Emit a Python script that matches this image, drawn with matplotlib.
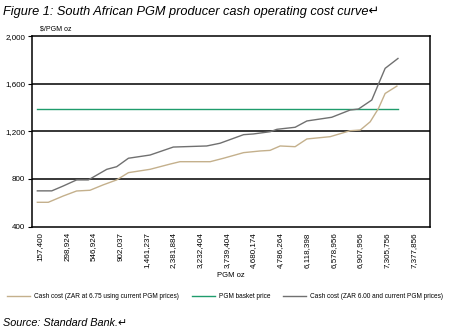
import matplotlib
matplotlib.use("Agg")
import matplotlib.pyplot as plt
from matplotlib.lines import Line2D

# category axis: cumulative PGM ounces, one label per tick slot
tick_labels = ["157,400", "298,924", "546,924", "902,037", "1,461,237",
               "2,381,884", "3,232,404", "3,739,404", "4,680,174", "4,786,264",
               "6,118,398", "6,578,956", "6,907,956", "7,305,756", "7,377,856"]

# cash cost at ZAR 6.75 (position in tick slots, $/PGM oz)
zar675_pos = [-0.10, 0.31, 0.87, 1.37, 1.87, 2.36, 2.87, 3.31, 4.12, 4.87,
              5.24, 6.37, 6.87, 7.62, 8.24, 8.61, 8.99, 9.55, 9.99, 10.86,
              11.61, 11.99, 12.36, 12.67, 12.92, 13.36]
zar675_cost = [604, 604, 657, 699, 705, 750, 792, 853, 881, 925,
               945, 945, 974, 1021, 1035, 1040, 1077, 1071, 1136, 1155,
               1205, 1211, 1280, 1392, 1518, 1580]

# cash cost at ZAR 6.00
zar600_pos = [-0.10, 0.44, 0.87, 1.37, 1.81, 2.50, 2.87, 3.31, 4.12, 4.99,
              6.24, 6.74, 7.62, 7.99, 8.62, 8.87, 9.55, 9.99, 10.92, 11.61,
              11.92, 12.42, 12.67, 12.92, 13.40]
zar600_cost = [700, 700, 741, 792, 792, 881, 903, 974, 1001, 1068,
               1077, 1100, 1172, 1178, 1197, 1217, 1234, 1287, 1318, 1379,
               1387, 1463, 1597, 1729, 1812]

basket_pos = [-0.10, 13.40]
basket_price = [1390, 1390]

y_ticks = [400, 800, 1200, 1600, 2000]

tan = "#c4b08c"
grey = "#707070"
green = "#1f9c6c"

fig = plt.figure(figsize=(4.5, 3.34), dpi=100)
ax = fig.add_axes([0.0711, 0.3216, 0.8845, 0.5704])

for y in y_ticks[1:-1]:
    ax.axhline(y, color="black", linewidth=1.1, zorder=1)

ax.plot(zar675_pos, zar675_cost, color=tan, linewidth=1.0, zorder=3)
ax.plot(basket_pos, basket_price, color=green, linewidth=1.0, zorder=2)
ax.plot(zar600_pos, zar600_cost, color=grey, linewidth=1.0, zorder=3)

ax.set_ylim(400, 2000)
ax.set_xlim(-0.3, 14.6)
ax.set_yticks(y_ticks)
ax.set_yticklabels([f"{v:,}" for v in y_ticks], fontsize=5.8, family="Liberation Sans")
ax.set_xticks(range(len(tick_labels)))
ax.set_xticklabels(tick_labels, rotation=90, fontsize=5.8, family="Liberation Sans")
ax.tick_params(axis="x", length=0, pad=4)
ax.tick_params(axis="y", length=3, width=0.8, pad=2)
for s in ax.spines.values():
    s.set_linewidth(1.1)

ax.set_xlabel("PGM oz", fontsize=5.5, family="Liberation Sans", labelpad=3)
ax.text(0.02, 1.02, "$/PGM oz", transform=ax.transAxes, fontsize=5,
        family="Liberation Sans", va="bottom", ha="left")

fig.text(0.007, 0.965, "Figure 1: South African PGM producer cash operating cost curve\u21b5",
         fontsize=9.2, style="italic", family=["Liberation Sans", "DejaVu Sans"],
         va="center", ha="left")
fig.text(0.007, 0.033, "Source: Standard Bank.\u21b5",
         fontsize=7.8, style="italic", family=["Liberation Sans", "DejaVu Sans"],
         va="center", ha="left")

handles = [Line2D([], [], color=tan, linewidth=1.0),
           Line2D([], [], color=green, linewidth=1.0),
           Line2D([], [], color=grey, linewidth=1.0)]
labels = ["Cash cost (ZAR at 6.75 using current PGM prices)",
          "PGM basket price",
          "Cash cost (ZAR 6.00 and current PGM prices)"]
fig.legend(handles, labels, loc="center", bbox_to_anchor=(0.5, 0.111), ncol=3,
           frameon=False, prop={"family": "Liberation Sans", "size": 4.7},
           handlelength=3.5, handletextpad=0.6, columnspacing=2.0)

fig.savefig("out.png", dpi=100)
